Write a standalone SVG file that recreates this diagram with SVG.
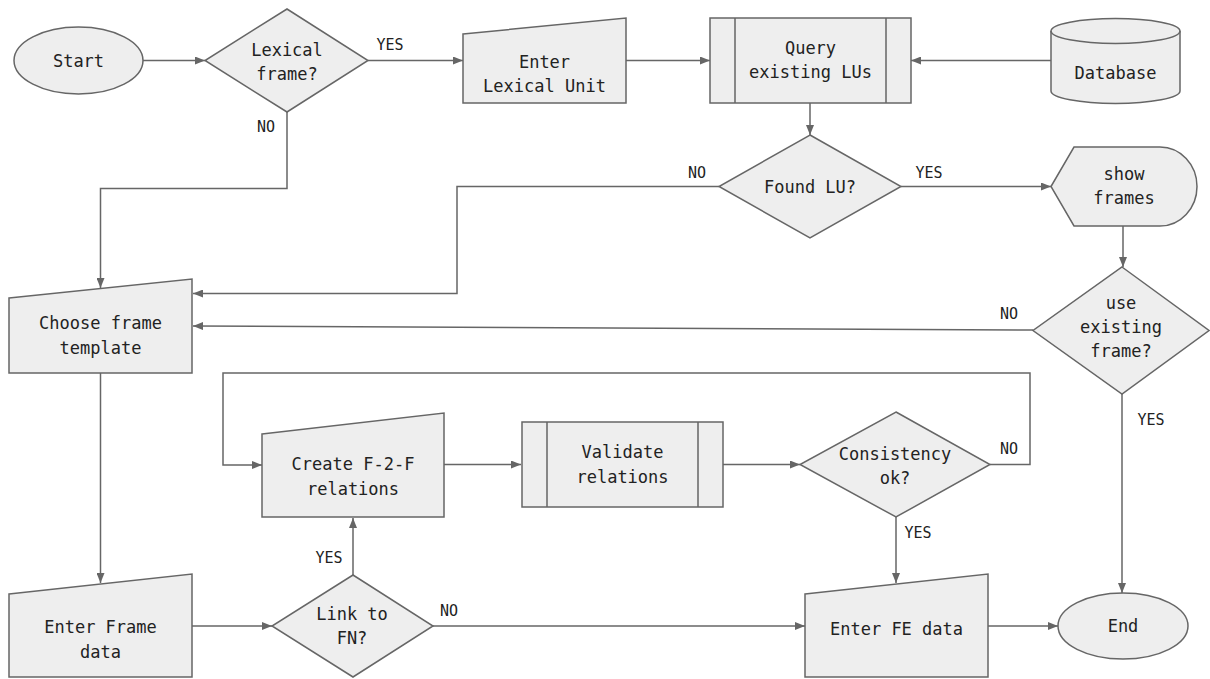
<svg xmlns="http://www.w3.org/2000/svg" width="1210" height="679" viewBox="0 0 1210 679">
<defs>
<style>
.n{fill:#eeeeee;stroke:#666666;stroke-width:1.5}
.c{fill:none;stroke:#666666;stroke-width:1.5}
.t{font-family:"DejaVu Sans Mono","Liberation Mono",monospace;font-size:17px;fill:#222222;text-anchor:middle;dominant-baseline:central}
.l{font-family:"DejaVu Sans Mono","Liberation Mono",monospace;font-size:15px;fill:#222222;text-anchor:middle;dominant-baseline:central}
</style>
<marker id="a" markerWidth="10" markerHeight="8" refX="10" refY="4" orient="auto" markerUnits="userSpaceOnUse">
<path d="M0,0 L10,4 L0,8 Z" fill="#666666"/>
</marker>
</defs>
<rect width="1210" height="679" fill="#ffffff"/>
<g id="connectors">
<path class="c" d="M143,60.5 H205" marker-end="url(#a)"/>
<path class="c" d="M368,60.5 H463" marker-end="url(#a)"/>
<path class="c" d="M626,60.5 H710" marker-end="url(#a)"/>
<path class="c" d="M1051,60.5 H911" marker-end="url(#a)"/>
<path class="c" d="M810,103 V135" marker-end="url(#a)"/>
<path class="c" d="M287,112 V188.5 H100.5 V288" marker-end="url(#a)"/>
<path class="c" d="M719,186.5 H457 V293.5 H193" marker-end="url(#a)"/>
<path class="c" d="M901,186.5 H1051" marker-end="url(#a)"/>
<path class="c" d="M1123,226 V267" marker-end="url(#a)"/>
<path class="c" d="M1033,330 L193,326" marker-end="url(#a)"/>
<path class="c" d="M1122,394 V593" marker-end="url(#a)"/>
<path class="c" d="M100.5,373 V583" marker-end="url(#a)"/>
<path class="c" d="M192,626 H272" marker-end="url(#a)"/>
<path class="c" d="M353,575 V518" marker-end="url(#a)"/>
<path class="c" d="M433,626 H805" marker-end="url(#a)"/>
<path class="c" d="M444,464.5 H521" marker-end="url(#a)"/>
<path class="c" d="M723,464.5 H800" marker-end="url(#a)"/>
<path class="c" d="M990,464.5 H1030 V373 H223 V465 H262" marker-end="url(#a)"/>
<path class="c" d="M896,517 V583" marker-end="url(#a)"/>
<path class="c" d="M988,626 H1058" marker-end="url(#a)"/>
<text class="l" x="390" y="45">YES</text>
<text class="l" x="266" y="127">NO</text>
<text class="l" x="697" y="173">NO</text>
<text class="l" x="929" y="173">YES</text>
<text class="l" x="1009" y="314">NO</text>
<text class="l" x="1151" y="420">YES</text>
<text class="l" x="1009" y="449">NO</text>
<text class="l" x="918" y="533">YES</text>
<text class="l" x="329" y="558">YES</text>
<text class="l" x="449" y="611">NO</text>
</g>
<g id="start">
<ellipse class="n" cx="78.5" cy="60.5" rx="64.5" ry="33.5"/>
<text class="t" x="78.5" y="60.5">Start</text>
</g>
<g id="lexical-frame">
<polygon class="n" points="287,9 368,60.5 287,112 205,60.5"/>
<text class="t" x="287" y="50">Lexical</text>
<text class="t" x="287" y="74">frame?</text>
</g>
<g id="enter-lu">
<polygon class="n" points="463,34 626,18 626,103 463,103"/>
<text class="t" x="544.5" y="62">Enter</text>
<text class="t" x="544.5" y="86">Lexical Unit</text>
</g>
<g id="query">
<rect class="n" x="710" y="18" width="201" height="85"/>
<path class="c" d="M735,18 V103 M886,18 V103"/>
<text class="t" x="810.5" y="48">Query</text>
<text class="t" x="810.5" y="72">existing LUs</text>
</g>
<g id="database">
<path class="n" d="M1051,31 V91 A64.5,12.5 0 0 0 1180,91 V31 A64.5,12.5 0 0 0 1051,31 Z"/>
<path class="c" d="M1051,31 A64.5,12.5 0 0 0 1180,31"/>
<text class="t" x="1115.5" y="73">Database</text>
</g>
<g id="found-lu">
<polygon class="n" points="810,135 901,186.5 810,238 719,186.5"/>
<text class="t" x="810" y="186.5">Found LU?</text>
</g>
<g id="show-frames">
<path class="n" d="M1051,186.5 L1074,147 H1160 A37,39.5 0 0 1 1160,226 H1074 Z"/>
<text class="t" x="1124" y="174">show</text>
<text class="t" x="1124" y="198">frames</text>
</g>
<g id="use-existing">
<polygon class="n" points="1122,267 1209,330.5 1122,394 1033,330.5"/>
<text class="t" x="1121" y="303">use</text>
<text class="t" x="1121" y="327">existing</text>
<text class="t" x="1121" y="351">frame?</text>
</g>
<g id="choose-template">
<polygon class="n" points="9,298 192,279 192,373 9,373"/>
<text class="t" x="100.5" y="323">Choose frame</text>
<text class="t" x="100.5" y="348">template</text>
</g>
<g id="create-f2f">
<polygon class="n" points="262,434 444,413 444,517 262,517"/>
<text class="t" x="353" y="464">Create F-2-F</text>
<text class="t" x="353" y="489">relations</text>
</g>
<g id="validate">
<rect class="n" x="522" y="422" width="201" height="85"/>
<path class="c" d="M547,422 V507 M698,422 V507"/>
<text class="t" x="622.5" y="452">Validate</text>
<text class="t" x="622.5" y="477">relations</text>
</g>
<g id="consistency">
<polygon class="n" points="896,412 990,464.5 896,517 800,464.5"/>
<text class="t" x="895" y="454">Consistency</text>
<text class="t" x="895" y="478">ok?</text>
</g>
<g id="enter-frame-data">
<polygon class="n" points="9,594 192,574 192,677 9,677"/>
<text class="t" x="100.5" y="627">Enter Frame</text>
<text class="t" x="100.5" y="652">data</text>
</g>
<g id="link-fn">
<polygon class="n" points="353,575 433,626 353,677 272,626"/>
<text class="t" x="352" y="614">Link to</text>
<text class="t" x="352" y="638">FN?</text>
</g>
<g id="enter-fe">
<polygon class="n" points="805,594 988,574 988,677 805,677"/>
<text class="t" x="896.5" y="629">Enter FE data</text>
</g>
<g id="end">
<ellipse class="n" cx="1123" cy="626" rx="65" ry="33"/>
<text class="t" x="1123" y="626">End</text>
</g>
</svg>
